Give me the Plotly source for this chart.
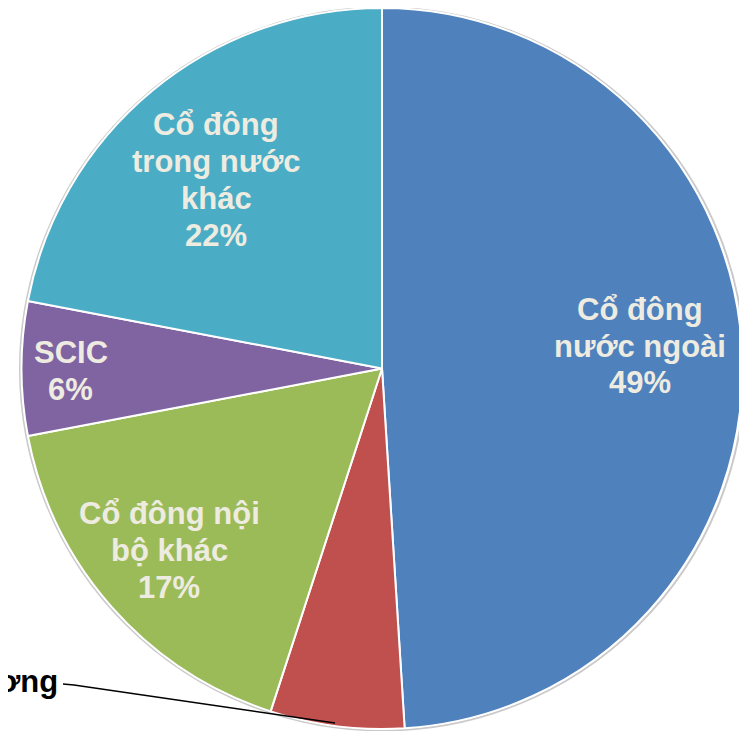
import plotly.graph_objects as go

W, H = 747, 731
OFF = 8  # page body margin

# ---- data ----
categories = ["Cổ đông nước ngoài", "Ngân hàng Ngoại thương", "Cổ đông nội bộ khác", "SCIC", "Cổ đông trong nước khác"]
values = [49, 6, 17, 6, 22]
colors = ["#4F81BD", "#C0504D", "#9BBB59", "#8064A2", "#4BACC6"]
label_lines = [
    ["Cổ đông", "nước ngoài", "49%"],
    ["Ngân hàng Ngoại thương", "6%"],
    ["Cổ đông nội", "bộ khác", "17%"],
    ["SCIC", "6%"],
    ["Cổ đông", "trong nước", "khác", "22%"],
]

def px(x):
    return (x - OFF) / W

def py(y):
    return 1 - (y - OFF) / H

FONT = "Liberation Sans, Arial, sans-serif"

fig = go.Figure()

# subtle shadow ring
fig.add_shape(type="circle", xref="paper", yref="paper",
              x0=px(382 - 362), x1=px(382 + 363), y0=py(368.5 + 362), y1=py(368.5 - 361),
              line=dict(color="rgba(150,150,150,0.5)", width=2), fillcolor="rgba(0,0,0,0)",
              layer="below")

fig.add_trace(go.Pie(
    labels=categories,
    values=values,
    sort=False,
    direction="clockwise",
    rotation=0,
    marker=dict(colors=colors, line=dict(color="white", width=2)),
    textinfo="none",
    hoverinfo="label+percent",
    showlegend=False,
    domain=dict(x=[px(382 - 360.5), px(382 + 360.5)], y=[py(729), 1]),
))

annotations = []
label_font = dict(family=FONT, size=31, color="#EEECE1", weight="bold")
# centre positions (pixels) of inside label blocks
centres = {0: (640, 346), 2: (169, 550), 3: (71, 371), 4: (216, 180)}
spacing = 37
for i, (cx, cy) in centres.items():
    lines = label_lines[i]
    n = len(lines)
    for k, t in enumerate(lines):
        yk = cy + (k - (n - 1) / 2) * spacing
        annotations.append(dict(x=px(cx), y=py(yk), xref="paper", yref="paper",
                                text=t, showarrow=False, xanchor="center", yanchor="middle",
                                font=label_font))

# outside label for the red slice (mostly off canvas)
annotations.append(dict(x=px(60), y=py(681), xref="paper", yref="paper",
                        text=label_lines[1][0], showarrow=False, xanchor="right", yanchor="middle",
                        font=dict(family=FONT, size=31, color="black", weight="bold")))
annotations.append(dict(x=px(-260), y=py(718), xref="paper", yref="paper",
                        text=label_lines[1][1], showarrow=False, xanchor="center", yanchor="middle",
                        font=dict(family=FONT, size=31, color="black", weight="bold")))

fig.add_shape(type="path", xref="paper", yref="paper",
              path=f"M {px(63)},{py(684)} L {px(74)},{py(685)} L {px(335)},{py(723)}",
              line=dict(color="black", width=1.5))

fig.update_layout(
    width=W, height=H,
    margin=dict(l=0, r=0, t=0, b=0),
    paper_bgcolor="white",
    plot_bgcolor="white",
    annotations=annotations,
)

fig.write_html("out.html")
